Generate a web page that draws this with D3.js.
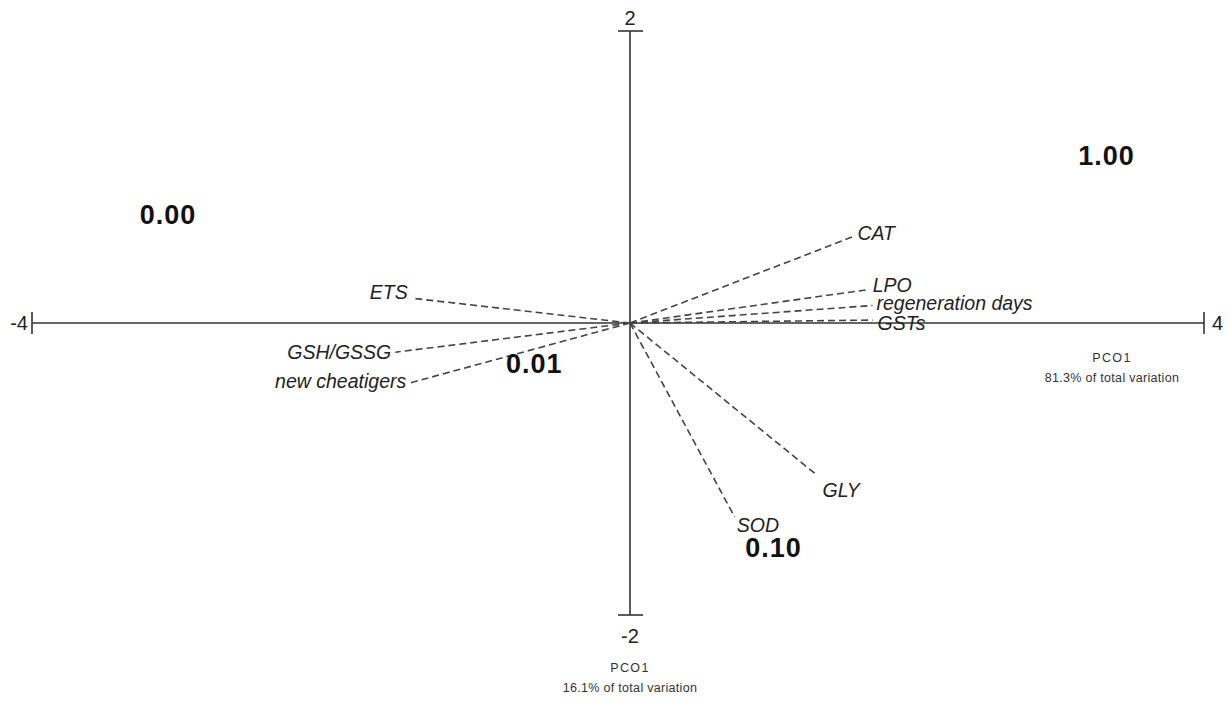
<!DOCTYPE html>
<html>
<head>
<meta charset="utf-8">
<script src="https://cdn.jsdelivr.net/npm/d3@7"></script>
<style>
  body { margin: 0; background: #fff; }
  svg { display: block; }
</style>
</head>
<body>
<div id="chart"></div>
<script>
(function (d3) {
  'use strict';

  const width = 1229;
  const height = 703;

  // variable vectors (PCO1 / PCO2 scores)
  const varNames = ["CAT", "LPO", "regeneration days", "GSTs", "GLY", "SOD", "ETS", "GSH/GSSG", "new cheatigers"];
  const varX = [1.55, 1.67, 1.69, 1.69, 1.30, 0.73, -1.46, -1.57, -1.47];
  const varY = [0.59, 0.23, 0.12, 0.02, -1.04, -1.33, 0.17, -0.20, -0.41];

  // group values printed on the plot
  const groupLabels = ["0.00", "1.00", "0.01", "0.10"];
  const groupX = [-3.09, 3.32, -0.64, 1.0];
  const groupY = [0.74, 1.15, -0.28, -1.54];

  const xTicks = [-4, 4];
  const yTicks = [-2, 2];
  const xTitle = ["PCO1", "81.3% of total variation"];
  const yTitle = ["PCO1", "16.1% of total variation"];

  const x = d3.scaleLinear().domain([-4, 0, 4]).range([32, 630, 1204]);
  const y = d3.scaleLinear().domain([-2, 2]).range([615, 31]);

  const svg = d3.select("#chart").append("svg")
    .attr("width", width)
    .attr("height", height)
    .style("font-family", "'Liberation Sans', Arial, sans-serif");

  const axisColor = "#333";

  // axes
  svg.append("line")
    .attr("x1", x(-4)).attr("x2", x(4))
    .attr("y1", y(0)).attr("y2", y(0))
    .style("stroke", axisColor).style("stroke-width", 1.6);
  svg.append("line")
    .attr("x1", x(0)).attr("x2", x(0))
    .attr("y1", y(2)).attr("y2", y(-2))
    .style("stroke", axisColor).style("stroke-width", 1.6);

  // end ticks
  svg.selectAll("line.xtick").data(xTicks).enter().append("line")
    .attr("class", "xtick")
    .attr("x1", d => x(d)).attr("x2", d => x(d))
    .attr("y1", y(0) - 11).attr("y2", y(0) + 11)
    .style("stroke", axisColor).style("stroke-width", 1.6);
  svg.selectAll("line.ytick").data(yTicks).enter().append("line")
    .attr("class", "ytick")
    .attr("x1", x(0) - 12).attr("x2", x(0) + 13)
    .attr("y1", d => y(d)).attr("y2", d => y(d))
    .style("stroke", axisColor).style("stroke-width", 1.6);

  svg.selectAll("text.xtick").data(xTicks).enter().append("text")
    .attr("class", "xtick")
    .attr("x", d => d < 0 ? x(d) - 4 : x(d) + 8)
    .attr("y", y(0))
    .attr("dy", "0.35em")
    .style("text-anchor", d => d < 0 ? "end" : "start")
    .style("font-size", "20px")
    .style("fill", "#222")
    .text(d => d);
  svg.selectAll("text.ytick").data(yTicks).enter().append("text")
    .attr("class", "ytick")
    .attr("x", x(0))
    .attr("y", d => d > 0 ? y(d) - 6 : y(d) + 28)
    .style("text-anchor", "middle")
    .style("font-size", "20px")
    .style("fill", "#222")
    .text(d => d);

  // axis titles
  const titleText = function (lines, cx, cy) {
    svg.selectAll(null).data(lines).enter().append("text")
      .attr("x", cx)
      .attr("y", (d, i) => cy + i * 20)
      .style("text-anchor", "middle")
      .style("font-size", i => "12.5px")
      .style("letter-spacing", (d, i) => i === 0 ? "1.4px" : "0.3px")
      .style("fill", "#333")
      .text(d => d);
  };
  titleText(xTitle, 1112, 362);
  titleText(yTitle, x(0), 672);

  // vectors
  const vectors = varNames.map((name, i) => ({ name: name, x: varX[i], y: varY[i] }));

  // label nudges (px) so text sits beside the line ends
  const nudge = {
    "CAT": [5, -4], "LPO": [3, -4], "regeneration days": [4, -2], "GSTs": [5, 3],
    "GLY": [6, 15], "SOD": [2, 8], "ETS": [-4, -6], "GSH/GSSG": [-4, 0], "new cheatigers": [-4, -2]
  };

  svg.selectAll("line.vec").data(vectors).enter().append("line")
    .attr("class", "vec")
    .attr("x1", x(0)).attr("y1", y(0))
    .attr("x2", d => x(d.x)).attr("y2", d => y(d.y))
    .style("stroke", "#444")
    .style("stroke-width", 1.6)
    .style("stroke-dasharray", "7,4");

  svg.selectAll("text.vec").data(vectors).enter().append("text")
    .attr("class", "vec")
    .attr("x", d => x(d.x) + nudge[d.name][0])
    .attr("y", d => y(d.y) + nudge[d.name][1])
    .attr("dy", "0.35em")
    .style("text-anchor", d => d.x < 0 ? "end" : "start")
    .style("font-size", "19.5px")
    .style("font-style", "italic")
    .style("fill", "#222")
    .text(d => d.name);

  // group values
  svg.selectAll("text.grp").data(groupLabels).enter().append("text")
    .attr("class", "grp")
    .attr("x", (d, i) => x(groupX[i]))
    .attr("y", (d, i) => y(groupY[i]))
    .attr("dy", "0.35em")
    .style("text-anchor", "middle")
    .style("font-size", "27px")
    .style("font-weight", "bold")
    .style("letter-spacing", "1px")
    .style("fill", "#111")
    .text(d => d);

}(d3));
</script>
</body>
</html>
